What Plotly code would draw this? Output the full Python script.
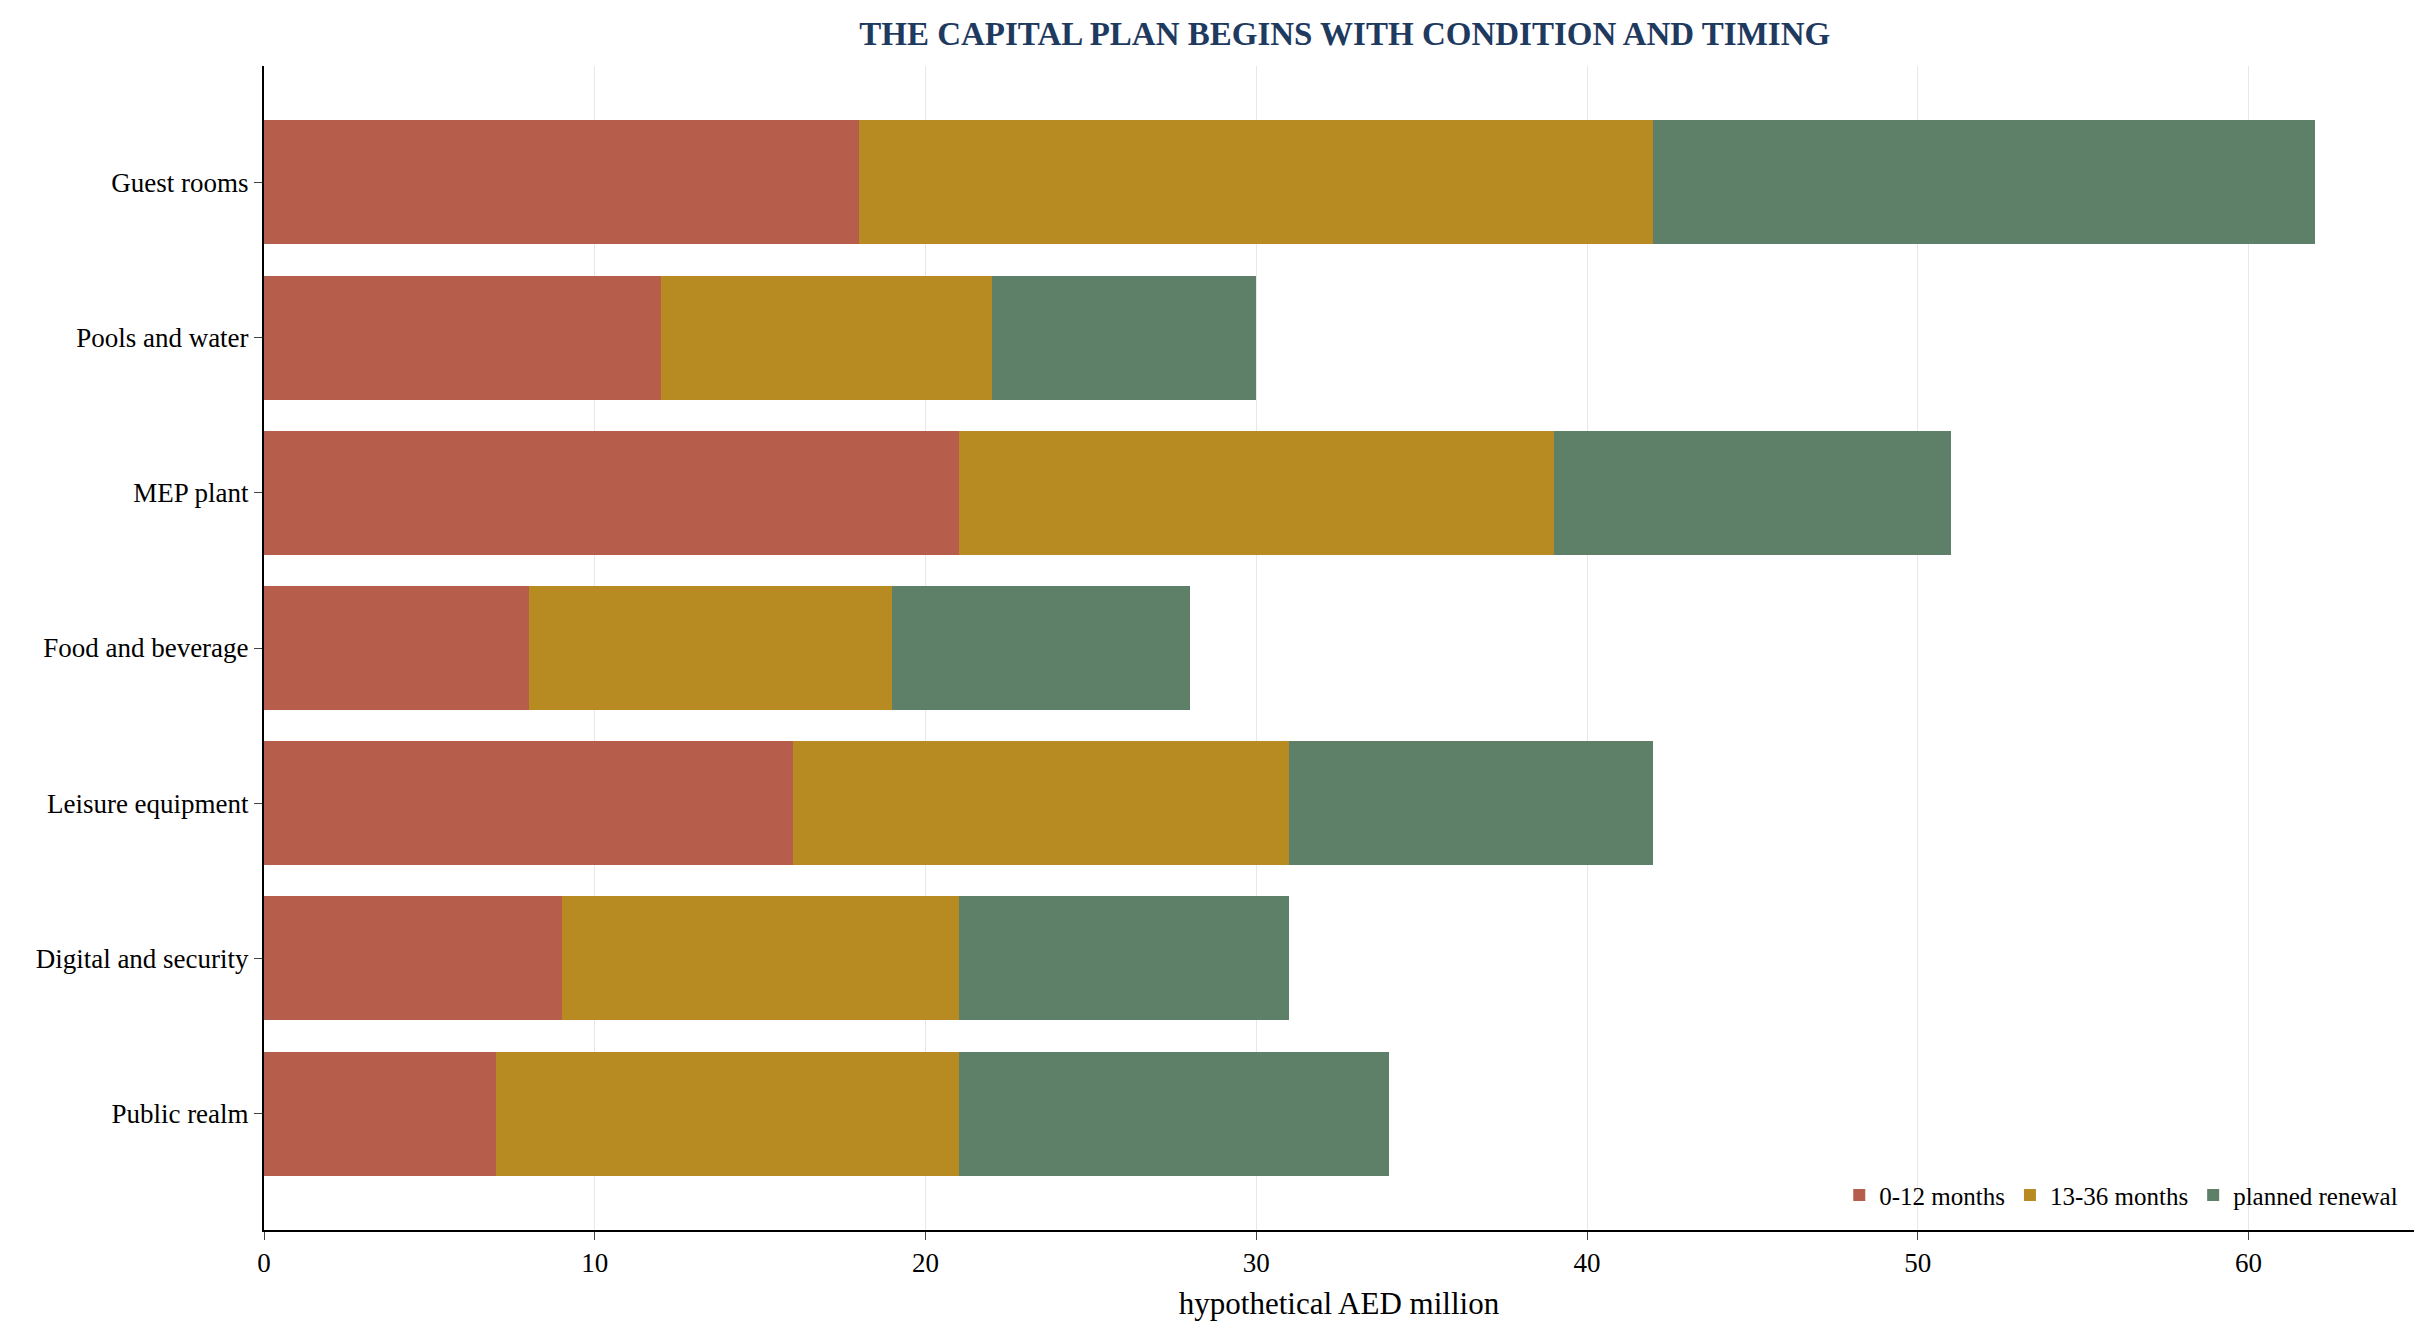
import plotly.graph_objects as go

categories = ["Guest rooms", "Pools and water", "MEP plant", "Food and beverage",
              "Leisure equipment", "Digital and security", "Public realm"]
s_0_12 = [18, 12, 21, 8, 16, 9, 7]
s_13_36 = [24, 10, 18, 11, 15, 12, 14]
s_renewal = [20, 8, 12, 9, 11, 10, 13]
x_ticks = [0, 10, 20, 30, 40, 50, 60]

fig = go.Figure()
for name, vals, col in [("0-12 months", s_0_12, "#b75d4b"),
                        ("13-36 months", s_13_36, "#b88a22"),
                        ("planned renewal", s_renewal, "#5f8068")]:
    fig.add_trace(go.Bar(y=categories, x=vals, name=name, orientation="h",
                         marker=dict(color=col, line=dict(width=0)), width=0.8))

fig.update_layout(
    barmode="stack", width=2426, height=1342, plot_bgcolor="white", paper_bgcolor="white",
    font=dict(family="Liberation Serif", size=27, color="black"),
    title=dict(text="<b>THE CAPITAL PLAN BEGINS WITH CONDITION AND TIMING</b>",
               x=0.551, xanchor="center", y=0.99, yanchor="top",
               font=dict(size=33, color="#1f3a5f")),
    margin=dict(l=256, r=20, t=58, b=120),
    xaxis=dict(range=[0, 65], tickvals=x_ticks, showgrid=True, gridcolor="#e8e8e8",
               showline=True, linecolor="black", linewidth=2, ticks="outside",
               ticklen=8, zeroline=False,
               title=dict(text="hypothetical AED million", font=dict(size=31))),
    yaxis=dict(showline=True, linecolor="black", linewidth=2,
               ticks="outside", ticklen=8, autorange=False, range=[6.75, -0.75]),
    legend=dict(orientation="h", x=0.995, xanchor="right", y=0.01, yanchor="bottom",
                bgcolor="rgba(255,255,255,0)", font=dict(size=25),
                traceorder="normal"),
    bargap=0.2,
)
fig.write_html("out.html")
